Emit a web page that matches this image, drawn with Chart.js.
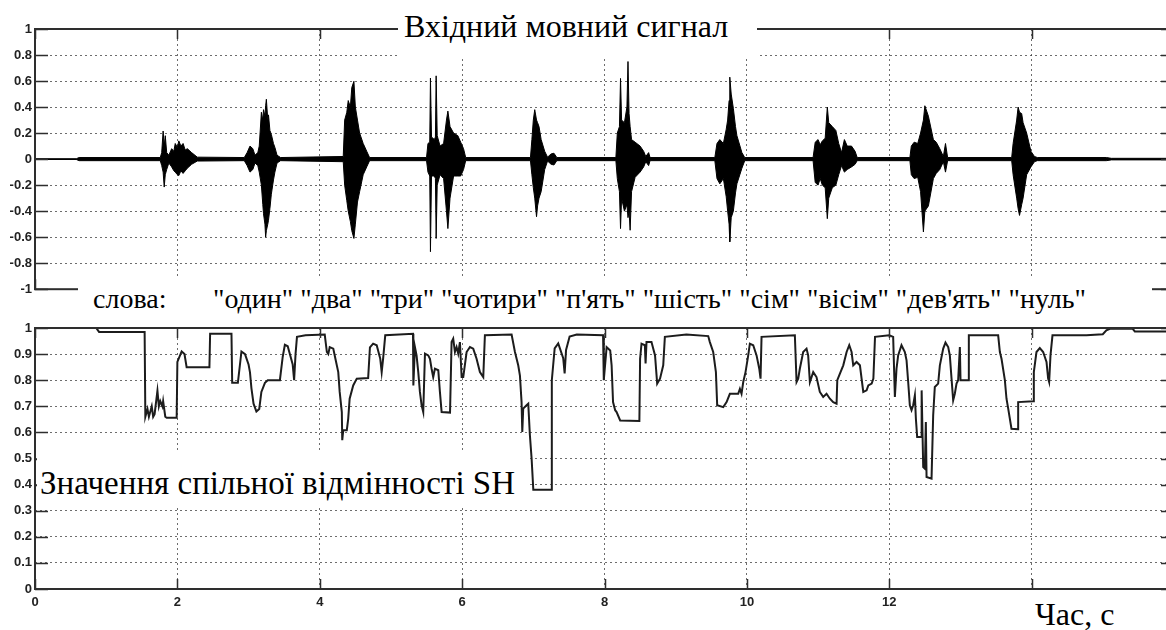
<!DOCTYPE html>
<html>
<head>
<meta charset="utf-8">
<script src="https://cdn.jsdelivr.net/npm/chart.js@4.4.0/dist/chart.umd.min.js"></script>
<style>
  html, body { margin: 0; padding: 0; background: #fff; overflow: hidden; }
  #page { position: relative; width: 1166px; height: 630px; overflow: hidden; }
  canvas { position: absolute; left: 0; }
  .mask { position: absolute; background: #fff; }
  .lbl { position: absolute; font-family: "Liberation Serif", "Times New Roman", serif; color: #000; line-height: 1; white-space: pre; }
</style>
</head>
<body>
<div id="page">
  <canvas id="signalChart" width="1180" height="300" style="top:0"></canvas>
  <canvas id="shChart" width="1180" height="330" style="top:300px"></canvas>

  <div class="mask" style="left:398px;top:0;width:359px;height:59px"></div>
  <div class="mask" style="left:78px;top:279px;width:1074px;height:47px"></div>
  <div class="mask" style="left:37px;top:452px;width:491px;height:55px"></div>
  <div class="mask" style="left:1020px;top:594px;width:110px;height:36px"></div>

  <div class="lbl" id="title" style="left:404px;top:10px;font-size:32px">Вхідний мовний сигнал</div>
  <div class="lbl" id="wordsHead" style="left:93px;top:285px;font-size:28px">слова:</div>
  <div class="lbl" id="wordsRow" style="left:213px;top:285px;font-size:28px"></div>
  <div class="lbl" id="shLabel" style="left:40px;top:467px;font-size:33px">Значення спільної відмінності SH</div>
  <div class="lbl" id="timeLabel" style="left:1035px;top:598px;font-size:32px">Час, с</div>
</div>

<script>
// spoken digits, in order of utterance
const words = ["один", "два", "три", "чотири", "п'ять", "шість", "сім", "вісім", "дев'ять", "нуль"];

const timeTicks = { min: 0, max: 16, step: 2 };
const signalTicks = { min: -1, max: 1, step: 0.2 };
const shTicks = { min: 0, max: 1, step: 0.1 };

// input speech: [time s, upper envelope, lower envelope]
const signalEnvelope = [
  [0, 0.003, -0.003], [0.58, 0.003, -0.003], [0.62, 0.012, -0.012], [1.76, 0.012, -0.012],
  // один
  [1.78, 0.05, -0.05], [1.80, 0.216, -0.10], [1.815, 0.10, -0.215], [1.83, 0.18, -0.12],
  [1.85, 0.05, -0.08], [1.88, 0.03, -0.03], [1.92, 0.08, -0.06], [1.95, 0.06, -0.09],
  [1.97, 0.12, -0.10], [2.00, 0.09, -0.12], [2.02, 0.14, -0.127], [2.05, 0.10, -0.09],
  [2.08, 0.12, -0.11], [2.11, 0.07, -0.09], [2.14, 0.08, -0.07], [2.20, 0.05, -0.04],
  [2.28, 0.015, -0.015], [2.94, 0.012, -0.012],
  // два
  [2.98, 0.05, -0.05], [3.02, 0.10, -0.10], [3.06, 0.08, -0.08], [3.09, 0.03, -0.03],
  [3.13, 0.05, -0.05], [3.15, 0.10, -0.10], [3.18, 0.36, -0.20], [3.20, 0.30, -0.35],
  [3.21, 0.38, -0.42], [3.23, 0.33, -0.50], [3.24, 0.41, -0.60], [3.25, 0.46, -0.55],
  [3.27, 0.30, -0.50], [3.28, 0.34, -0.47], [3.30, 0.22, -0.38], [3.32, 0.19, -0.27],
  [3.35, 0.12, -0.16], [3.37, 0.09, -0.10], [3.40, 0.03, -0.03], [3.45, 0.012, -0.012],
  // три
  [4.33, 0.02, -0.02], [4.35, 0.30, -0.20], [4.38, 0.36, -0.32], [4.40, 0.45, -0.40],
  [4.43, 0.40, -0.48], [4.45, 0.55, -0.55], [4.48, 0.598, -0.61], [4.50, 0.40, -0.50],
  [4.53, 0.30, -0.33], [4.56, 0.20, -0.25], [4.61, 0.12, -0.12], [4.66, 0.06, -0.06],
  [4.70, 0.012, -0.012],
  // чотири
  [5.50, 0.012, -0.012], [5.52, 0.12, -0.10], [5.545, 0.13, -0.13], [5.555, 0.623, -0.712],
  [5.57, 0.17, -0.13], [5.61, 0.15, -0.13], [5.625, 0.17, -0.15], [5.635, 0.64, -0.61],
  [5.65, 0.18, -0.20], [5.69, 0.10, -0.12], [5.74, 0.12, -0.15], [5.78, 0.30, -0.40],
  [5.80, 0.369, -0.534], [5.83, 0.25, -0.30], [5.88, 0.20, -0.13], [5.94, 0.18, -0.13],
  [5.98, 0.13, -0.13], [6.02, 0.08, -0.08], [6.05, 0.012, -0.012],
  // п'ять
  [6.96, 0.012, -0.012], [6.98, 0.15, -0.12], [7.00, 0.30, -0.22], [7.02, 0.38, -0.30],
  [7.045, 0.30, -0.443], [7.06, 0.28, -0.36], [7.08, 0.25, -0.30], [7.11, 0.15, -0.25],
  [7.16, 0.06, -0.08], [7.20, 0.015, -0.015], [7.25, 0.04, -0.04], [7.29, 0.045, -0.045],
  [7.33, 0.012, -0.012],
  // шість
  [8.16, 0.012, -0.012], [8.18, 0.20, -0.15], [8.21, 0.25, -0.25], [8.225, 0.62, -0.534],
  [8.24, 0.30, -0.30], [8.28, 0.28, -0.40], [8.315, 0.40, -0.35], [8.33, 0.75, -0.45],
  [8.345, 0.35, -0.40], [8.36, 0.25, -0.547], [8.38, 0.15, -0.25], [8.43, 0.13, -0.14],
  [8.50, 0.10, -0.10], [8.55, 0.06, -0.06], [8.58, 0.02, -0.02], [8.62, 0.05, -0.05],
  [8.64, 0.012, -0.012],
  // сім
  [9.55, 0.012, -0.012], [9.58, 0.12, -0.15], [9.62, 0.15, -0.19], [9.67, 0.12, -0.15],
  [9.71, 0.23, -0.29], [9.73, 0.30, -0.40], [9.75, 0.45, -0.50], [9.76, 0.63, -0.636],
  [9.78, 0.50, -0.45], [9.81, 0.39, -0.40], [9.84, 0.25, -0.26], [9.86, 0.18, -0.19],
  [9.93, 0.05, -0.07], [9.97, 0.012, -0.012],
  // вісім
  [10.93, 0.012, -0.012], [10.96, 0.13, -0.18], [11.00, 0.15, -0.20], [11.03, 0.11, -0.15],
  [11.06, 0.14, -0.20], [11.10, 0.16, -0.22], [11.13, 0.40, -0.458], [11.15, 0.28, -0.30],
  [11.20, 0.25, -0.22], [11.25, 0.22, -0.20], [11.29, 0.12, -0.12], [11.33, 0.05, -0.05],
  [11.37, 0.15, -0.10], [11.41, 0.10, -0.08], [11.47, 0.10, -0.06], [11.52, 0.06, -0.04],
  [11.55, 0.012, -0.012],
  // дев'ять
  [12.29, 0.012, -0.012], [12.31, 0.10, -0.12], [12.35, 0.13, -0.15], [12.40, 0.12, -0.14],
  [12.44, 0.20, -0.25], [12.48, 0.30, -0.56], [12.50, 0.41, -0.40], [12.55, 0.33, -0.36],
  [12.62, 0.15, -0.15], [12.66, 0.13, -0.11], [12.71, 0.08, -0.08], [12.76, 0.02, -0.02],
  [12.79, 0.12, -0.10], [12.82, 0.012, -0.012],
  // нуль
  [13.72, 0.012, -0.012], [13.74, 0.12, -0.12], [13.79, 0.30, -0.30], [13.81, 0.40, -0.38],
  [13.83, 0.36, -0.433], [13.86, 0.35, -0.35], [13.88, 0.28, -0.30], [13.93, 0.20, -0.12],
  [13.99, 0.06, -0.06], [14.04, 0.02, -0.02], [14.08, 0.012, -0.012],
  [15.05, 0.012, -0.012], [15.12, 0.006, -0.006], [16, 0.006, -0.006]
];

// common difference SH: [time s, value]
const shTrace = [
  [0, 1.0], [0.86, 1.0], [0.90, 0.985], [1.54, 0.985], [1.55, 0.66], [1.58, 0.69],
  [1.60, 0.66], [1.64, 0.70], [1.66, 0.66], [1.68, 0.67], [1.72, 0.76], [1.74, 0.70],
  [1.76, 0.72], [1.79, 0.70], [1.80, 0.72], [1.83, 0.66], [1.85, 0.656], [1.99, 0.656],
  [2.00, 0.87], [2.06, 0.91], [2.10, 0.90], [2.13, 0.85], [2.45, 0.85], [2.46, 0.978],
  [2.76, 0.978], [2.77, 0.79], [2.85, 0.79], [2.90, 0.91], [2.95, 0.90], [3.00, 0.86],
  [3.02, 0.83], [3.04, 0.77], [3.07, 0.71], [3.11, 0.68], [3.15, 0.69], [3.18, 0.755],
  [3.23, 0.79], [3.27, 0.80], [3.44, 0.80], [3.48, 0.89], [3.51, 0.936], [3.55, 0.93],
  [3.58, 0.90], [3.62, 0.86], [3.64, 0.80], [3.66, 0.90], [3.68, 0.966], [3.80, 0.972],
  [4.07, 0.975], [4.10, 0.908], [4.12, 0.90], [4.14, 0.927], [4.19, 0.921], [4.22, 0.882],
  [4.26, 0.831], [4.28, 0.755], [4.31, 0.678], [4.316, 0.57], [4.33, 0.608], [4.38, 0.608],
  [4.40, 0.653], [4.42, 0.729], [4.47, 0.78], [4.52, 0.806], [4.68, 0.808], [4.705, 0.926],
  [4.75, 0.94], [4.80, 0.934], [4.85, 0.882], [4.87, 0.831], [4.89, 0.882], [4.92, 0.972],
  [5.31, 0.978], [5.315, 0.78], [5.337, 0.927], [5.36, 0.895], [5.384, 0.831], [5.407, 0.755],
  [5.431, 0.704], [5.454, 0.678], [5.478, 0.902], [5.524, 0.895], [5.548, 0.882], [5.571, 0.844],
  [5.594, 0.812], [5.618, 0.844], [5.665, 0.838], [5.688, 0.755], [5.712, 0.678], [5.83, 0.676],
  [5.852, 0.946], [5.875, 0.959], [5.899, 0.908], [5.922, 0.927], [5.945, 0.902], [5.969, 0.946],
  [5.993, 0.812], [6.016, 0.812], [6.063, 0.908], [6.11, 0.927], [6.156, 0.921], [6.203, 0.882],
  [6.25, 0.831], [6.297, 0.812], [6.32, 0.972], [6.695, 0.975], [6.742, 0.908], [6.788, 0.857],
  [6.812, 0.818], [6.835, 0.716], [6.845, 0.602], [6.858, 0.691], [6.905, 0.704], [6.929, 0.71],
  [6.952, 0.589], [6.976, 0.50], [7.00, 0.38], [7.257, 0.38], [7.26, 0.80], [7.30, 0.922],
  [7.35, 0.941], [7.42, 0.884], [7.44, 0.826], [7.46, 0.916], [7.51, 0.967], [7.61, 0.975],
  [7.98, 0.972], [7.99, 0.80], [8.03, 0.927], [8.08, 0.914], [8.10, 0.857], [8.12, 0.716],
  [8.15, 0.685], [8.17, 0.678], [8.22, 0.646], [8.49, 0.644], [8.50, 0.882], [8.52, 0.94],
  [8.567, 0.934], [8.577, 0.864], [8.59, 0.946], [8.66, 0.946], [8.71, 0.895], [8.74, 0.787],
  [8.78, 0.806], [8.825, 0.857], [8.848, 0.966], [9.15, 0.975], [9.457, 0.969], [9.48, 0.946],
  [9.527, 0.908], [9.565, 0.831], [9.583, 0.704], [9.668, 0.697], [9.715, 0.716], [9.761, 0.748],
  [9.878, 0.748], [9.902, 0.767], [9.925, 0.748], [9.949, 0.793], [9.981, 0.831], [10.019, 0.895],
  [10.042, 0.94], [10.089, 0.934], [10.136, 0.895], [10.174, 0.844], [10.192, 0.806], [10.206, 0.966],
  [10.674, 0.972], [10.698, 0.793], [10.721, 0.806], [10.744, 0.844], [10.791, 0.908], [10.838, 0.921],
  [10.861, 0.895], [10.885, 0.793], [10.932, 0.831], [10.978, 0.812], [11.025, 0.755], [11.072, 0.736],
  [11.119, 0.748], [11.166, 0.729], [11.213, 0.716], [11.26, 0.71], [11.27, 0.80], [11.307, 0.825],
  [11.354, 0.857], [11.401, 0.908], [11.438, 0.934], [11.471, 0.908], [11.494, 0.857], [11.541, 0.87],
  [11.588, 0.857], [11.635, 0.755], [11.682, 0.761], [11.706, 0.78], [11.753, 0.787], [11.777, 0.806],
  [11.80, 0.966], [12.00, 0.972], [12.055, 0.966], [12.079, 0.736], [12.102, 0.844], [12.125, 0.895],
  [12.172, 0.934], [12.219, 0.908], [12.243, 0.876], [12.266, 0.793], [12.289, 0.704], [12.313, 0.685],
  [12.336, 0.704], [12.36, 0.742], [12.374, 0.653], [12.392, 0.582], [12.453, 0.582], [12.455, 0.761],
  [12.477, 0.467], [12.50, 0.461], [12.514, 0.64], [12.524, 0.429], [12.594, 0.423], [12.617, 0.665],
  [12.64, 0.774], [12.687, 0.787], [12.711, 0.857], [12.758, 0.921], [12.79, 0.944], [12.828, 0.927],
  [12.851, 0.895], [12.875, 0.806], [12.898, 0.723], [12.921, 0.748], [12.945, 0.787], [12.968, 0.80],
  [12.992, 0.927], [13.001, 0.80], [13.109, 0.80], [13.118, 0.972], [13.53, 0.972], [13.554, 0.908],
  [13.577, 0.882], [13.624, 0.80], [13.647, 0.729], [13.671, 0.691], [13.717, 0.614], [13.81, 0.612],
  [13.811, 0.716], [14.022, 0.719], [14.031, 0.831], [14.068, 0.908], [14.115, 0.923], [14.162, 0.908],
  [14.209, 0.87], [14.232, 0.806], [14.246, 0.793], [14.265, 0.895], [14.293, 0.972], [14.77, 0.972],
  [15.00, 0.976], [15.05, 0.991], [15.10, 0.997], [15.42, 0.997], [15.45, 0.987], [16, 0.987]
];

document.getElementById("wordsRow").textContent = words.map(w => `"${w}"`).join(" ");

const tickFont = { family: "'Liberation Sans', Arial, sans-serif", size: 13, weight: "bold" };

// Matlab-like box: full frame plus inward tick marks on all four sides
const boxFrame = {
  id: "boxFrame",
  afterDraw(chart) {
    const { ctx, chartArea: a, scales: { x, y } } = chart;
    ctx.save();
    ctx.strokeStyle = "#2e2e2e";
    ctx.lineWidth = 1.5;
    ctx.beginPath();
    y.ticks.forEach(t => {
      const p = Math.round(y.getPixelForValue(t.value)) + 0.5;
      ctx.moveTo(a.left, p); ctx.lineTo(a.left + 13, p);
      ctx.moveTo(a.right - 13, p); ctx.lineTo(a.right, p);
    });
    x.ticks.forEach(t => {
      const p = Math.round(x.getPixelForValue(t.value)) + 0.5;
      ctx.moveTo(p, a.bottom); ctx.lineTo(p, a.bottom - 10);
      ctx.moveTo(p, a.top); ctx.lineTo(p, a.top + 10);
    });
    ctx.stroke();
    ctx.lineWidth = 2;
    ctx.strokeRect(a.left, a.top, a.right - a.left, a.bottom - a.top);
    ctx.restore();
  }
};

function timeAxis(showLabels, height) {
  return {
    type: "linear",
    min: timeTicks.min,
    max: timeTicks.max,
    afterFit: s => { s.height = height; },
    border: { display: false, dash: [2, 3] },
    grid: { color: "rgba(60,60,60,0.75)", drawTicks: false },
    ticks: {
      display: showLabels,
      stepSize: timeTicks.step,
      padding: 6,
      color: "#222",
      font: tickFont,
      maxRotation: 0,
      callback: v => (v >= timeTicks.max ? "" : v)
    }
  };
}

function valueAxis(range) {
  return {
    min: range.min,
    max: range.max,
    afterFit: s => { s.width = 35; },
    border: { display: false, dash: [2, 3] },
    grid: { color: "rgba(60,60,60,0.75)", drawTicks: false },
    ticks: {
      stepSize: range.step,
      padding: 3,
      color: "#222",
      font: tickFont,
      callback: v => String(Math.round(v * 10) / 10)
    }
  };
}

const baseOptions = {
  responsive: false,
  animation: false,
  events: [],
  plugins: { legend: { display: false }, tooltip: { enabled: false } },
  elements: { point: { radius: 0 }, line: { tension: 0 } }
};

new Chart(document.getElementById("signalChart"), {
  type: "line",
  data: {
    datasets: [
      {
        data: signalEnvelope.map(r => ({ x: r[0], y: r[1] })),
        borderColor: "#000",
        backgroundColor: "#000",
        borderWidth: 1,
        fill: "+1"
      },
      {
        data: signalEnvelope.map(r => ({ x: r[0], y: r[2] })),
        borderColor: "#000",
        borderWidth: 1,
        fill: false
      }
    ]
  },
  options: {
    ...baseOptions,
    layout: { padding: { top: 29, right: 6, left: 0, bottom: 0 } },
    scales: { x: timeAxis(false, 9), y: valueAxis(signalTicks) }
  },
  plugins: [boxFrame]
});

new Chart(document.getElementById("shChart"), {
  type: "line",
  data: {
    datasets: [{
      data: shTrace.map(r => ({ x: r[0], y: r[1] })),
      borderColor: "#1c1c1c",
      borderWidth: 2,
      fill: false
    }]
  },
  options: {
    ...baseOptions,
    layout: { padding: { top: 28, right: 6, left: 0, bottom: 0 } },
    scales: { x: timeAxis(true, 41), y: valueAxis(shTicks) }
  },
  plugins: [boxFrame]
});
</script>
</body>
</html>
